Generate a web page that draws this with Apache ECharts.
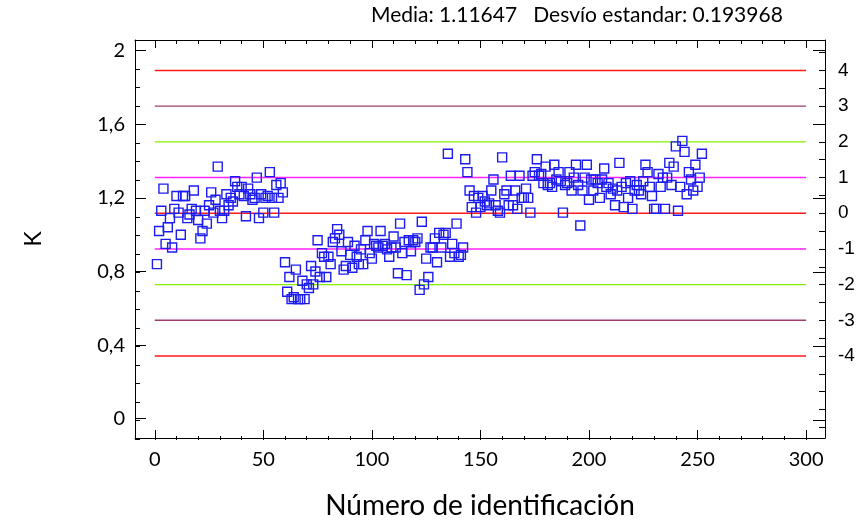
<!DOCTYPE html>
<html>
<head>
<meta charset="utf-8">
<script src="https://cdn.jsdelivr.net/npm/echarts@6/dist/echarts.min.js"></script>
<style>
  html, body { margin: 0; padding: 0; background: #ffffff; }
  #chart { width: 859px; height: 525px; }
</style>
</head>
<body>
<div id="chart"></div>
<script>
// Summary statistics of the K measurements
const MEAN = 1.11647;
const SD = 0.193968;

// K value for each identification number 1..252
const kValues = [
  0.84, 1.02, 1.13, 1.25, 0.95, 1.04, 1.09, 0.93, 1.14, 1.21,
  1.12, 1.00, 1.21, 1.21, 1.09, 1.11, 1.14, 1.24, 1.13, 1.08,
  0.98, 1.02, 1.13, 1.06, 1.16, 1.23, 1.12, 1.19, 1.37, 1.13,
  1.09, 1.13, 1.22, 1.16, 1.20, 1.18, 1.29, 1.26, 1.22, 1.26,
  1.21, 1.10, 1.25, 1.22, 1.19, 1.20, 1.31, 1.09, 1.22, 1.12,
  1.20, 1.21, 1.34, 1.20, 1.12, 1.27, 1.20, 1.28, 1.23, 0.85,
  0.69, 0.77, 0.65, 0.66, 0.81, 0.65, 0.65, 0.75, 0.65, 0.73,
  0.71, 0.83, 0.73, 0.80, 0.97, 0.77, 0.90, 0.88, 0.77, 0.88,
  0.84, 0.96, 0.98, 1.03, 1.00, 0.91, 0.81, 0.83, 0.96, 0.89,
  0.82, 0.94, 0.88, 0.84, 0.92, 0.84, 0.97, 1.02, 0.90, 0.87,
  0.95, 0.94, 0.93, 1.02, 0.94, 0.95, 0.92, 0.88, 0.93, 0.99,
  0.93, 0.79, 1.06, 0.90, 0.96, 0.78, 0.97, 0.91, 0.97, 0.96,
  0.98, 0.70, 1.07, 0.73, 0.87, 0.77, 0.93, 0.93, 0.98, 0.85,
  1.01, 0.93, 1.00, 1.01, 1.44, 0.88, 0.95, 0.90, 1.06, 0.88,
  0.89, 0.93, 1.41, 1.34, 1.24, 1.15, 1.21, 1.12, 1.20, 1.15,
  1.21, 1.18, 1.16, 1.17, 1.24, 1.30, 1.16, 1.13, 1.12, 1.42,
  1.22, 1.24, 1.16, 1.32, 1.16, 1.24, 1.14, 1.32, 1.20, 1.20,
  1.25, 1.20, 1.12, 1.32, 1.34, 1.41, 1.32, 1.33, 1.28, 1.37,
  1.27, 1.28, 1.26, 1.38, 1.30, 1.34, 1.29, 1.12, 1.27, 1.28,
  1.34, 1.24, 1.31, 1.38, 1.27, 1.05, 1.24, 1.31, 1.38, 1.19,
  1.30, 1.24, 1.30, 1.28, 1.20, 1.30, 1.36, 1.26, 1.28, 1.22,
  1.25, 1.16, 1.24, 1.39, 1.26, 1.15, 1.28, 1.20, 1.29, 1.14,
  1.24, 1.27, 1.24, 1.22, 1.29, 1.38, 1.34, 1.26, 1.21, 1.14,
  1.14, 1.33, 1.26, 1.31, 1.14, 1.31, 1.39, 1.27, 1.37, 1.48,
  1.13, 1.26, 1.51, 1.45, 1.22, 1.34, 1.30, 1.24, 1.38, 1.26,
  1.31, 1.44
];

// Control limits: mean + k * sd
const sigmaLevels = [4, 3, 2, 1, 0, -1, -2, -3, -4];
const levelColors = ['#ff1a1a', '#a03c70', '#88ee00', '#ff22ff', '#ff1a1a',
                     '#ff22ff', '#88ee00', '#a03c70', '#ff1a1a'];
const limitStart = 0;
const limitEnd = 300;

// Axis ranges and tick positions
const X_MIN = -9.1, X_MAX = 308.7;
const Y_MIN = -0.105, Y_MAX = 2.058;
const xTicks = [0, 50, 100, 150, 200, 250, 300];
const xMinorTicks = [0, 10, 20, 30, 40, 50, 60, 70, 80, 90, 100, 110, 120, 130, 140, 150,
                     160, 170, 180, 190, 200, 210, 220, 230, 240, 250, 260, 270, 280, 290, 300];
const yTicks = [0, 0.4, 0.8, 1.2, 1.6, 2];
const yMinorTicks = [-0.1, 0, 0.1, 0.2, 0.3, 0.4, 0.5, 0.6, 0.7, 0.8, 0.9, 1.0,
                     1.1, 1.2, 1.3, 1.4, 1.5, 1.6, 1.7, 1.8, 1.9, 2.0];
const zLabels = [4, 3, 2, 1, 0, -1, -2, -3, -4];
const zTicks = [4.5, 4, 3.5, 3, 2.5, 2, 1.5, 1, 0.5, 0, -0.5, -1, -1.5, -2, -2.5,
                -3, -3.5, -4, -4.5, -5, -5.5, -6];

const TITLE = 'Media: 1.11647   Desvío estandar: 0.193968';
const X_NAME = 'Número de identificación';
const Y_NAME = 'K';

const chart = echarts.init(document.getElementById('chart'), null, { renderer: 'canvas' });

const gridRect = { left: 135, right: 34, top: 40, bottom: 85 };
const labelFont = 'Lato, "Noto Sans", sans-serif';
const axisBlack = { color: '#000000', width: 1 };
const frameLine = { show: true, onZero: false, lineStyle: axisBlack };
const noLine = { show: false, onZero: false };

function decimalComma(v) {
  return String(Math.round(v * 10) / 10).replace('.', ',');
}

const series = [];
sigmaLevels.forEach((k, i) => {
  const level = MEAN + k * SD;
  series.push({
    type: 'line',
    xAxisIndex: 0,
    yAxisIndex: 0,
    data: [[limitStart, level], [limitEnd, level]],
    symbol: 'none',
    silent: true,
    z: 1,
    lineStyle: { color: levelColors[i], width: 1.4 }
  });
});
series.push({
  type: 'scatter',
  xAxisIndex: 0,
  yAxisIndex: 0,
  data: kValues.map((v, i) => [i + 1, v]),
  symbol: 'rect',
  symbolSize: 9,
  z: 3,
  itemStyle: { color: 'rgba(0,0,0,0)', borderColor: '#1c1cf0', borderWidth: 1.4, opacity: 1 }
});

const option = {
  animation: false,
  backgroundColor: '#ffffff',
  title: {
    text: TITLE,
    left: 366,
    top: 0,
    textStyle: { fontFamily: labelFont, fontSize: 21, fontWeight: 'normal', color: '#000000' }
  },
  grid: [
    Object.assign({}, gridRect, { containLabel: false }),
    Object.assign({}, gridRect, { containLabel: false })
  ],
  xAxis: [
    {
      type: 'value', gridIndex: 0, position: 'bottom', min: X_MIN, max: X_MAX,
      name: X_NAME, nameLocation: 'middle', nameGap: 54,
      nameTextStyle: { fontFamily: labelFont, fontSize: 28, color: '#000000' },
      axisLine: frameLine,
      axisTick: { show: true, inside: true, length: 8, customValues: xTicks, lineStyle: axisBlack },
      axisLabel: { show: true, customValues: xTicks, margin: 12, fontFamily: labelFont, fontSize: 20, color: '#000000' },
      splitLine: { show: false }
    },
    {
      type: 'value', gridIndex: 0, position: 'top', min: X_MIN, max: X_MAX,
      axisLine: frameLine,
      axisTick: { show: true, inside: true, length: 8, customValues: xTicks, lineStyle: axisBlack },
      axisLabel: { show: false },
      splitLine: { show: false }
    },
    {
      type: 'value', gridIndex: 1, position: 'bottom', min: X_MIN, max: X_MAX,
      axisLine: noLine,
      axisTick: { show: true, inside: true, length: 4, customValues: xMinorTicks, lineStyle: axisBlack },
      axisLabel: { show: false },
      splitLine: { show: false }
    },
    {
      type: 'value', gridIndex: 1, position: 'top', min: X_MIN, max: X_MAX,
      axisLine: noLine,
      axisTick: { show: true, inside: true, length: 4, customValues: xMinorTicks, lineStyle: axisBlack },
      axisLabel: { show: false },
      splitLine: { show: false }
    }
  ],
  yAxis: [
    {
      type: 'value', gridIndex: 0, position: 'left', min: Y_MIN, max: Y_MAX,
      name: Y_NAME, nameLocation: 'middle', nameGap: 90, nameRotate: 90,
      nameTextStyle: { fontFamily: labelFont, fontSize: 23, color: '#000000' },
      axisLine: frameLine,
      axisTick: { show: true, inside: true, length: 11, customValues: yTicks, lineStyle: axisBlack },
      axisLabel: { show: true, customValues: yTicks, margin: 10, formatter: decimalComma,
                   fontFamily: labelFont, fontSize: 20, color: '#000000' },
      splitLine: { show: false }
    },
    {
      type: 'value', gridIndex: 0, position: 'right',
      min: (Y_MIN - MEAN) / SD, max: (Y_MAX - MEAN) / SD,
      axisLine: frameLine,
      axisTick: { show: true, inside: true, length: 6, customValues: zTicks, lineStyle: axisBlack },
      axisLabel: { show: true, customValues: zLabels, margin: 13, formatter: v => String(Math.round(v)),
                   fontFamily: '"Liberation Sans", Arial, sans-serif', fontSize: 19, color: '#000000' },
      splitLine: { show: false }
    },
    {
      type: 'value', gridIndex: 1, position: 'left', min: Y_MIN, max: Y_MAX,
      axisLine: noLine,
      axisTick: { show: true, inside: true, length: 5, customValues: yMinorTicks, lineStyle: axisBlack },
      axisLabel: { show: false },
      splitLine: { show: false }
    },
    {
      type: 'value', gridIndex: 1, position: 'right', min: Y_MIN, max: Y_MAX,
      axisLine: noLine,
      axisTick: { show: true, inside: true, length: 12, customValues: yTicks, lineStyle: axisBlack },
      axisLabel: { show: false },
      splitLine: { show: false }
    }
  ],
  series: series
};

chart.setOption(option);
</script>
</body>
</html>
